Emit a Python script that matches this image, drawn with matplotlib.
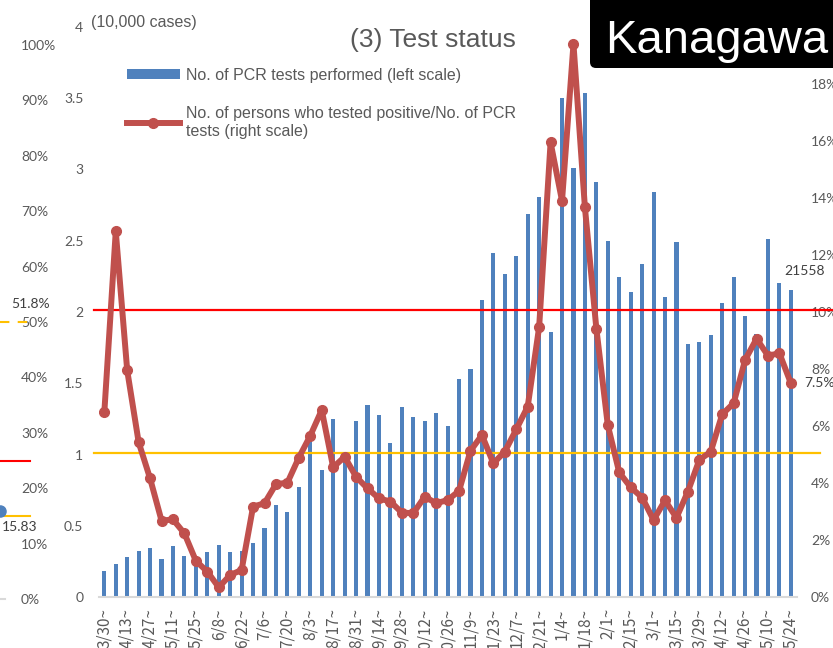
import numpy as np
import pandas as pd
import matplotlib.pyplot as plt
from matplotlib.lines import Line2D
from matplotlib.patches import Patch, FancyBboxPatch
from matplotlib.transforms import IdentityTransform


# weekly PCR tests (10,000 cases) and positivity rate (%), week starting 2020/3/30
weeks = pd.date_range('2020-03-30', periods=61, freq='7D')
week_labels = [f"{d.month}/{d.day}~" for d in weeks]

tests = [0.182, 0.229, 0.279, 0.321, 0.342, 0.267, 0.356, 0.286, 0.288, 0.314,
         0.365, 0.316, 0.323, 0.381, 0.482, 0.646, 0.594, 0.770, 1.110, 0.891,
         1.247, 1.000, 1.233, 1.345, 1.275, 1.079, 1.331, 1.261, 1.235, 1.293,
         1.202, 1.530, 1.598, 2.084, 2.416, 2.269, 2.395, 2.690, 2.810, 1.857,
         3.504, 3.008, 3.539, 2.910, 2.500, 2.245, 2.137, 2.340, 2.840, 2.105,
         2.489, 1.777, 1.788, 1.842, 2.065, 2.247, 1.975, 1.849, 2.510, 2.201,
         2.1558]

positivity = [6.48, 12.83, 7.95, 5.43, 4.16, 2.68, 2.72, 2.23, 1.27, 0.89,
              0.34, 0.77, 0.95, 3.17, 3.29, 3.96, 4.01, 4.89, 5.66, 6.56,
              4.55, 4.92, 4.22, 3.81, 3.46, 3.35, 2.96, 2.94, 3.52, 3.29,
              3.40, 3.72, 5.13, 5.68, 4.69, 5.10, 5.88, 6.68, 9.47, 15.95,
              13.90, 19.40, 13.67, 9.42, 6.03, 4.37, 3.85, 3.49, 2.70, 3.39,
              2.78, 3.70, 4.81, 5.10, 6.41, 6.80, 8.32, 9.06, 8.47, 8.55,
              7.50]

red_level = 10.08
yellow_level = 5.05

# pieces of the neighbouring chart on the left
other_ticks = list(range(0, 101, 10))
other_dashed = 50
other_red = 25
other_yellow = 15
other_point = 15.83
other_label = 51.8

blue = '#4F81BD'
red = '#C0504D'
gray = '#595959'

W, H = 833, 648
fig = plt.figure(figsize=(W / 100, H / 100), dpi=100)

# ---- left fragment
ax0 = fig.add_axes([0, 49 / H, 18 / W, 554 / H])
ax0.set_xlim(0, 18)
ax0.set_ylim(0, 100)
ax0.set_xticks([])
ax0.set_yticks(other_ticks)
ax0.set_yticklabels([f"{v}%" for v in other_ticks], family='Lato', fontsize=10, color=gray)
ax0.yaxis.tick_right()
ax0.tick_params(axis='y', length=0, pad=2.2)
for s in ax0.spines.values():
    s.set_visible(False)
ax0.plot([0, 35], [other_dashed] * 2, color='#FFC000', lw=1.5, ls=(0, (4.5, 4)), clip_on=False)
ax0.plot([0, 30], [other_red] * 2, color='red', lw=1.5, clip_on=False)
ax0.plot([0, 30], [other_yellow] * 2, color='#FFC000', lw=1.5, clip_on=False)
ax0.plot([0, 5], [0, 0], color='#D9D9D9', lw=1.5, clip_on=False)
ax0.plot([0], [other_point], 'o', color=blue, ms=8, clip_on=False)
ax0.annotate(f"{other_point}", (0, other_point), xytext=(14, -11), textcoords='offset points',
             ha='center', va='center', family='Lato', fontsize=10, color='#404040')
ax0.annotate(f"{other_label}%", (0, other_label), xytext=(22, 6), textcoords='offset points',
             ha='center', va='center', family='Lato', fontsize=10, color='#404040')

# ---- main chart
ax = fig.add_axes([98.6 / W, 51 / H, 698 / W, 570 / H])
x = np.arange(len(tests))
ax.bar(x, tests, width=0.36, color=blue, zorder=2)
ax.set_xlim(-0.5, len(tests) - 0.5)
ax.set_ylim(0, 4)
yt = np.arange(0, 4.01, 0.5)
ax.set_yticks(yt)
ax.set_yticklabels([f"{v:g}" for v in yt], family='Lato', fontsize=10, color=gray)
ax.set_xticks(x[::2])
ax.set_xticklabels(week_labels[::2], rotation=90, family='Noto Sans CJK JP',
                   fontsize=11, color=gray)
ax.tick_params(length=0)
ax.tick_params(axis='y', pad=11)
ax.tick_params(axis='x', pad=8)
for k, s in ax.spines.items():
    s.set_visible(k == 'bottom')
ax.spines['bottom'].set_color('#D9D9D9')
ax.spines['bottom'].set_linewidth(1.5)
ax.annotate(f"{tests[-1] * 10000:.0f}", (x[-1], tests[-1]), xytext=(9.5, 13.5),
            textcoords='offset points', ha='center', va='center',
            family='Lato', fontsize=10, color='#404040')

ax2 = ax.twinx()
ax2.set_ylim(0, 20)
rt = np.arange(0, 19, 2)
ax2.set_yticks(rt)
ax2.set_yticklabels([f"{v}%" for v in rt], family='Lato', fontsize=10, color=gray)
ax2.tick_params(length=0, pad=10.4)
for s in ax2.spines.values():
    s.set_visible(False)
ax2.axhline(red_level, xmin=-0.007, xmax=1.06, color='red', lw=1.6, clip_on=False, zorder=2)
ax2.axhline(yellow_level, xmin=-0.007, xmax=1.0335, color='#FFC000', lw=1.6, clip_on=False, zorder=2)
ax2.plot(x, positivity, color=red, lw=4.3, marker='o', ms=7, zorder=3)
ax2.annotate(f"{positivity[-1]:.1f}%", (x[-1], positivity[-1]), xytext=(9.5, 0),
             textcoords='offset points', ha='left', va='center',
             family='Lato', fontsize=10, color='#404040')

# ---- titles, legend, prefecture box
fig.text(350 / W, 1 - 40 / H, '(3) Test status', family='Liberation Sans',
         fontsize=19, color=gray, va='center')
fig.text(91 / W, 1 - 22 / H, '(10,000 cases)', family='Liberation Sans',
         fontsize=11.5, color=gray, va='center')

handles = [Patch(facecolor=blue),
           Line2D([], [], color=red, lw=4.3, marker='o', ms=7)]
labels = ['No. of PCR tests performed (left scale)',
          'No. of persons who tested positive/No. of PCR\ntests (right scale)']
fig.legend(handles, labels, loc='upper left', bbox_to_anchor=(127 / W, 1 - 68 / H),
           frameon=False, prop={'family': 'Liberation Sans', 'size': 11.5},
           labelcolor=gray, handlelength=3.3, handleheight=0.6, handletextpad=0.4,
           labelspacing=1.45, borderpad=0, borderaxespad=0)

box = FancyBboxPatch((590, H - 68), 300, 120, boxstyle='round,pad=0,rounding_size=6',
                     transform=IdentityTransform(), facecolor='black', edgecolor='none', zorder=10)
fig.patches.append(box)
fig.text(605 / W, 1 - 53 / H, 'Kanagawa', family='Liberation Sans', fontsize=34,
         color='white', va='baseline', zorder=11)

fig.savefig('out.png', dpi=100)
